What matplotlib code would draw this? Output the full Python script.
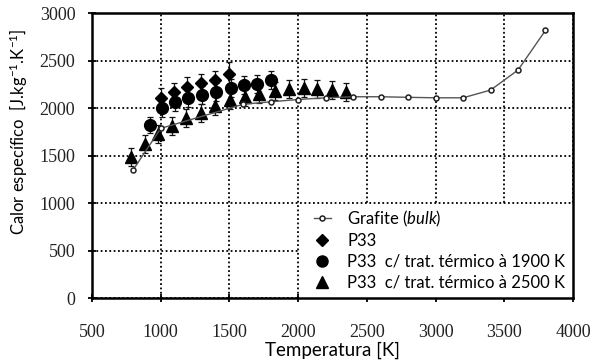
import matplotlib
matplotlib.use("Agg")
import matplotlib.pyplot as plt
from matplotlib.patches import Rectangle
from matplotlib.lines import Line2D

# Specific heat of graphite (bulk) and P33 fibres
T_graf = [800, 1000, 1600, 1800, 2000, 2200, 2400, 2600, 2800, 3000, 3200, 3400, 3600, 3800]
cp_graf = [1350, 1786, 2040, 2066, 2090, 2108, 2119, 2119, 2113, 2108, 2108, 2189, 2400, 2818]

T_p33 = [1000, 1095, 1190, 1290, 1395, 1500]
cp_p33 = [2110, 2165, 2225, 2260, 2295, 2355]
err_p33 = [100, 100, 100, 100, 100, 130]

T_1900 = [920, 1010, 1105, 1200, 1300, 1405, 1510, 1605, 1700, 1805]
cp_1900 = [1820, 2000, 2067, 2108, 2140, 2172, 2207, 2242, 2253, 2295]
err_1900 = [85, 95, 95, 95, 95, 95, 95, 95, 95, 95]

T_2500 = [785, 885, 980, 1080, 1185, 1290, 1395, 1505, 1610, 1715, 1830, 1935, 2040, 2140, 2245, 2350]
cp_2500 = [1487, 1620, 1725, 1808, 1891, 1944, 2020, 2084, 2119, 2147, 2182, 2197, 2207, 2197, 2189, 2172]
err_2500 = [95] * 16

x_ticks = [500, 1000, 1500, 2000, 2500, 3000, 3500, 4000]
y_ticks = [0, 500, 1000, 1500, 2000, 2500, 3000]

labels = ["Grafite ($\\it{bulk}$)",
          "P33",
          "P33  c/ trat. térmico à 1900 K",
          "P33  c/ trat. térmico à 2500 K"]

plt.rcParams["font.family"] = ["Lato", "DejaVu Sans"]
plt.rcParams["mathtext.fontset"] = "custom"
plt.rcParams["mathtext.rm"] = "Lato"
plt.rcParams["mathtext.it"] = "Lato:italic"

fig = plt.figure(figsize=(5.95, 3.63), dpi=100)
ax = fig.add_axes([0.1546, 0.179, 0.8084, 0.785])

ax.set_xlim(500, 4000)
ax.set_ylim(0, 3000)
ax.set_xticks(x_ticks)
ax.set_yticks(y_ticks)

ax.set_axisbelow(True)
ax.grid(True, color="black", linestyle=(0, (1, 1.4)), linewidth=1.3)

# white panel behind the legend
ax.add_patch(Rectangle((2015, 0), 1985, 985, facecolor="white",
                       edgecolor="none", zorder=1))

eb = dict(fmt="none", ecolor="#111111", elinewidth=0.9, capsize=2.5,
          capthick=0.9, zorder=3)
ax.errorbar(T_2500, cp_2500, yerr=err_2500, **eb)
ax.errorbar(T_p33, cp_p33, yerr=err_p33, **eb)
ax.errorbar(T_1900, cp_1900, yerr=err_1900, **eb)

ax.plot(T_2500, cp_2500, linestyle="none", marker="^", markersize=8.5,
        color="black", zorder=4)
ax.plot(T_p33, cp_p33, linestyle="none", marker="D", markersize=6.3,
        color="black", zorder=4)
ax.plot(T_1900, cp_1900, linestyle="none", marker="o", markersize=8.5,
        color="black", zorder=4)
ax.plot(T_graf, cp_graf, color="#555555", linewidth=1.0, marker="o",
        markersize=3.6, markerfacecolor="white", markeredgecolor="#222222",
        markeredgewidth=1.1, zorder=5)

for s in ax.spines.values():
    s.set_linewidth(1.8)
    s.set_color("black")

ax.tick_params(axis="both", direction="inout", length=6, width=1.3,
               colors="black", labelsize=13, labelcolor="#222222")
ax.tick_params(axis="x", pad=16)
ax.tick_params(axis="y", pad=9)
for lab in ax.get_xticklabels() + ax.get_yticklabels():
    lab.set_fontfamily("Liberation Serif")

ax.set_xlabel("Temperatura [K]", fontsize=13.5, labelpad=0)
ax.set_ylabel("Calor específico  [J.kg$^{-1}$.K$^{-1}$]", fontsize=12)
ax.yaxis.set_label_coords(-0.128, 0.585)

handles = [
    Line2D([], [], color="#555555", linewidth=1.0, marker="o", markersize=3.6,
           markerfacecolor="white", markeredgecolor="#222222", markeredgewidth=1.1),
    Line2D([], [], linestyle="none", marker="D", markersize=6, color="black"),
    Line2D([], [], linestyle="none", marker="o", markersize=8, color="black"),
    Line2D([], [], linestyle="none", marker="^", markersize=8, color="black"),
]
leg = ax.legend(handles, labels, loc="lower right", frameon=False,
                fontsize=12, handlelength=1.0, handletextpad=1.0,
                labelspacing=0.28, borderaxespad=0.15, borderpad=0.3)
leg.set_zorder(6)

fig.savefig("out.png", dpi=100)
